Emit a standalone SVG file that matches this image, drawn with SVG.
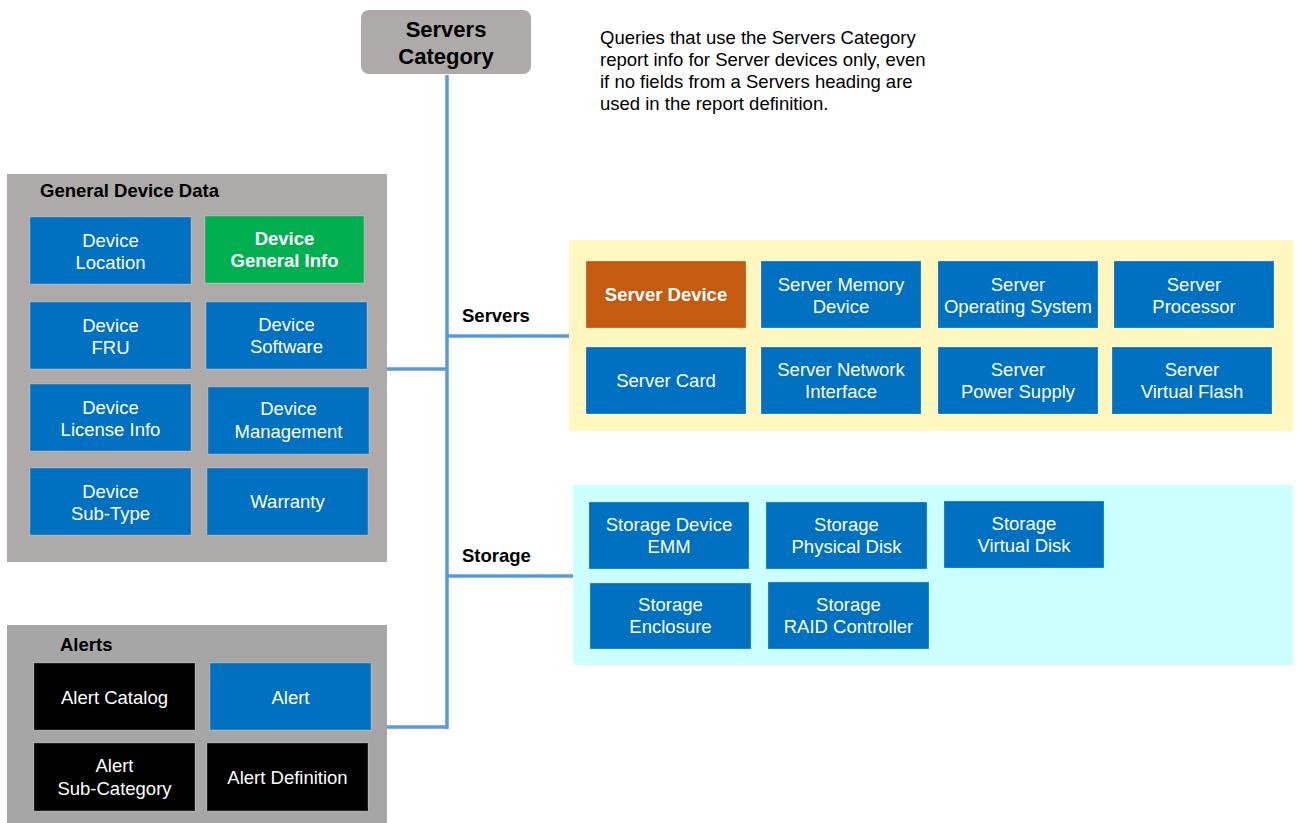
<svg xmlns="http://www.w3.org/2000/svg" width="1299" height="823" viewBox="0 0 1299 823">
<style>
  text { font-family: "Liberation Sans", Arial, sans-serif; }
  .bx { stroke: #ffffff; stroke-opacity: 0.25; stroke-width: 1; }
  .blue { fill: #0070c0; }
  .green { fill: #00b050; }
  .orange { fill: #c55a11; }
  .black { fill: #000000; }
  .t { fill: #ffffff; font-size: 18.5px; text-anchor: middle; }
  .tb { fill: #ffffff; font-size: 18.5px; font-weight: bold; text-anchor: middle; }
  .hd { fill: #000000; font-size: 18.5px; font-weight: bold; }
  .note { fill: #000000; font-size: 18.5px; }
  .conn { stroke: #5b9bd5; stroke-width: 3.5; fill: none; }
</style>

<g id="panel-general">
  <rect x="7" y="174" width="380" height="388" fill="#aeaaaa"/>
  <text class="hd" x="40" y="197">General Device Data</text>
</g>
<g id="panel-alerts">
  <rect x="7" y="625" width="380" height="198" fill="#a6a6a6"/>
  <text class="hd" x="60" y="651">Alerts</text>
</g>
<g id="panel-servers">
  <rect x="569" y="240" width="724" height="191" fill="#fff7c0"/>
</g>
<g id="panel-storage">
  <rect x="573" y="485" width="720" height="180" fill="#ccffff"/>
</g>

<g id="connectors">
  <path class="conn" d="M447,75 V729"/>
  <path class="conn" d="M387,369 H447"/>
  <path class="conn" d="M387,727 H447"/>
  <path class="conn" d="M447,336 H569"/>
  <path class="conn" d="M447,576 H573"/>
</g>

<g id="servers-category">
  <rect x="361" y="10" width="170" height="64" rx="8" fill="#aeaaaa"/>
  <text x="446" y="37" font-size="22" font-weight="bold" text-anchor="middle" fill="#000">Servers</text>
  <text x="446" y="64" font-size="22" font-weight="bold" text-anchor="middle" fill="#000">Category</text>
</g>

<g id="note">
  <text class="note" x="600" y="44">Queries that use the Servers Category</text>
  <text class="note" x="600" y="66">report info for Server devices only, even</text>
  <text class="note" x="600" y="88">if no fields from a Servers heading are</text>
  <text class="note" x="600" y="110">used in the report definition.</text>
</g>

<text class="hd" x="462" y="322">Servers</text>
<text class="hd" x="462" y="562">Storage</text>

<!-- General Device Data -->
<g id="device-location"><rect class="bx blue" x="30" y="217" width="161" height="67"/><text class="t" x="110.5" y="246.5">Device</text><text class="t" x="110.5" y="268.5">Location</text></g>
<g id="device-general-info"><rect class="bx green" x="205" y="216" width="159" height="67"/><text class="tb" x="284.5" y="245">Device</text><text class="tb" x="284.5" y="267">General Info</text></g>
<g id="device-fru"><rect class="bx blue" x="30" y="302" width="161" height="67"/><text class="t" x="110.5" y="331.5">Device</text><text class="t" x="110.5" y="353.5">FRU</text></g>
<g id="device-software"><rect class="bx blue" x="206" y="302" width="161" height="67"/><text class="t" x="286.5" y="331">Device</text><text class="t" x="286.5" y="353">Software</text></g>
<g id="device-license-info"><rect class="bx blue" x="30" y="384" width="161" height="67"/><text class="t" x="110.5" y="413.5">Device</text><text class="t" x="110.5" y="435.5">License Info</text></g>
<g id="device-management"><rect class="bx blue" x="208" y="387" width="161" height="67"/><text class="t" x="288.5" y="415">Device</text><text class="t" x="288.5" y="437.5">Management</text></g>
<g id="device-sub-type"><rect class="bx blue" x="30" y="468" width="161" height="67"/><text class="t" x="110.5" y="497.5">Device</text><text class="t" x="110.5" y="519.5">Sub-Type</text></g>
<g id="warranty"><rect class="bx blue" x="207" y="468" width="161" height="67"/><text class="t" x="287.5" y="508">Warranty</text></g>

<!-- Alerts -->
<g id="alert-catalog"><rect class="bx black" x="34" y="663" width="161" height="67"/><text class="t" x="114.5" y="703.5">Alert Catalog</text></g>
<g id="alert"><rect class="bx blue" x="210" y="663" width="161" height="67"/><text class="t" x="290.5" y="703.5">Alert</text></g>
<g id="alert-sub-category"><rect class="bx black" x="34" y="743" width="161" height="68"/><text class="t" x="114.5" y="772">Alert</text><text class="t" x="114.5" y="794.5">Sub-Category</text></g>
<g id="alert-definition"><rect class="bx black" x="207" y="743" width="161" height="68"/><text class="t" x="287.5" y="783.5">Alert Definition</text></g>

<!-- Servers -->
<g id="server-device"><rect class="bx orange" x="586" y="261" width="160" height="67"/><text class="tb" x="666" y="301">Server Device</text></g>
<g id="server-memory-device"><rect class="bx blue" x="761" y="261" width="160" height="67"/><text class="t" x="841" y="290.5">Server Memory</text><text class="t" x="841" y="312.5">Device</text></g>
<g id="server-operating-system"><rect class="bx blue" x="938" y="261" width="160" height="67"/><text class="t" x="1018" y="290.5">Server</text><text class="t" x="1018" y="312.5">Operating System</text></g>
<g id="server-processor"><rect class="bx blue" x="1114" y="261" width="160" height="67"/><text class="t" x="1194" y="290.5">Server</text><text class="t" x="1194" y="312.5">Processor</text></g>
<g id="server-card"><rect class="bx blue" x="586" y="347" width="160" height="67"/><text class="t" x="666" y="387">Server Card</text></g>
<g id="server-network-interface"><rect class="bx blue" x="761" y="347" width="160" height="67"/><text class="t" x="841" y="376">Server Network</text><text class="t" x="841" y="398">Interface</text></g>
<g id="server-power-supply"><rect class="bx blue" x="938" y="347" width="160" height="67"/><text class="t" x="1018" y="376">Server</text><text class="t" x="1018" y="398">Power Supply</text></g>
<g id="server-virtual-flash"><rect class="bx blue" x="1112" y="347" width="160" height="67"/><text class="t" x="1192" y="376">Server</text><text class="t" x="1192" y="398">Virtual Flash</text></g>

<!-- Storage -->
<g id="storage-device-emm"><rect class="bx blue" x="589" y="502" width="160" height="67"/><text class="t" x="669" y="530.5">Storage Device</text><text class="t" x="669" y="552.5">EMM</text></g>
<g id="storage-physical-disk"><rect class="bx blue" x="766" y="502" width="161" height="67"/><text class="t" x="846.5" y="530.5">Storage</text><text class="t" x="846.5" y="552.5">Physical Disk</text></g>
<g id="storage-virtual-disk"><rect class="bx blue" x="944" y="501" width="160" height="67"/><text class="t" x="1024" y="529.5">Storage</text><text class="t" x="1024" y="551.5">Virtual Disk</text></g>
<g id="storage-enclosure"><rect class="bx blue" x="590" y="583" width="161" height="66"/><text class="t" x="670.5" y="611">Storage</text><text class="t" x="670.5" y="633">Enclosure</text></g>
<g id="storage-raid-controller"><rect class="bx blue" x="768" y="582" width="161" height="67"/><text class="t" x="848.5" y="611">Storage</text><text class="t" x="848.5" y="633">RAID Controller</text></g>
</svg>
